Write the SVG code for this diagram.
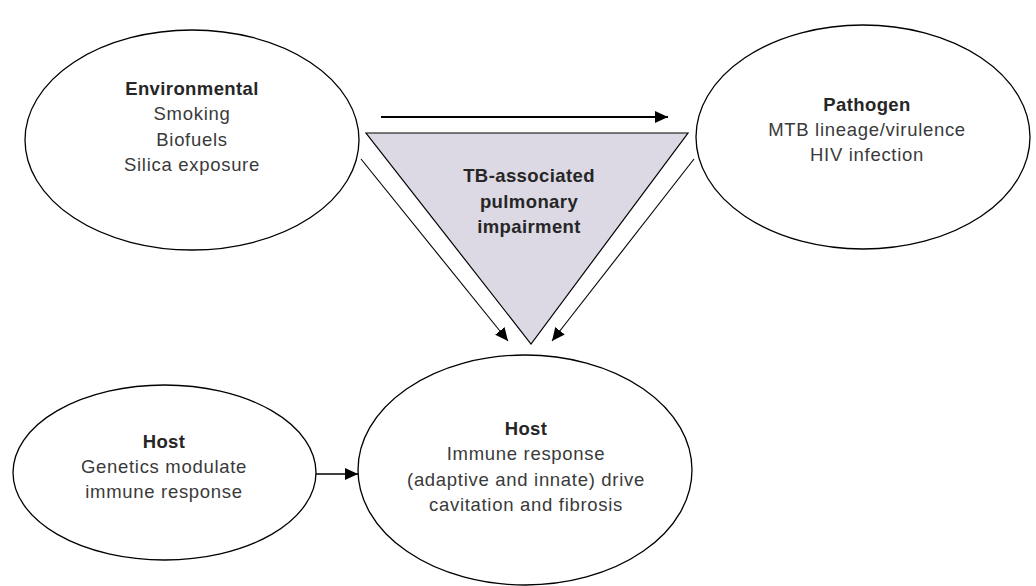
<svg xmlns="http://www.w3.org/2000/svg" width="1036" height="586" viewBox="0 0 1036 586">
<defs>
<marker id="ah" markerUnits="userSpaceOnUse" markerWidth="14" markerHeight="12" refX="13" refY="6" orient="auto">
<path d="M0,0 L13,6 L0,12 z" fill="#000"/>
</marker>
<style>
.node{fill:#fff;stroke:#000;stroke-width:1.3}
.tri{fill:#dcd8e4;stroke:#000;stroke-width:1.2}
text{font-family:"Liberation Sans",Arial,sans-serif;font-size:18.5px;text-anchor:middle;letter-spacing:0.7px;fill:#3a3a3a}
.b{font-weight:bold;fill:#262626;letter-spacing:0.4px}
.c{fill:none;stroke:#000}
</style>
</defs>
<rect width="1036" height="586" fill="#fff"/>
<g id="environmental">
<ellipse class="node" cx="192" cy="140" rx="167" ry="110"/>
<text x="192" y="95" class="b">Environmental</text>
<text x="192" y="120">Smoking</text>
<text x="192" y="146">Biofuels</text>
<text x="192" y="171">Silica exposure</text>
</g>
<g id="pathogen">
<ellipse class="node" cx="863" cy="137" rx="167" ry="112"/>
<text x="867" y="111" class="b">Pathogen</text>
<text x="867" y="136">MTB lineage/virulence</text>
<text x="867" y="161">HIV infection</text>
</g>
<g id="impairment">
<polygon class="tri" points="366,133 688,133 531,344"/>
<text x="529" y="182" class="b">TB-associated</text>
<text x="529" y="208" class="b">pulmonary</text>
<text x="529" y="233" class="b">impairment</text>
</g>
<g id="host-genetics">
<ellipse class="node" cx="164.5" cy="472.5" rx="151.5" ry="87.5"/>
<text x="164" y="448" class="b">Host</text>
<text x="164" y="473">Genetics modulate</text>
<text x="164" y="498">immune response</text>
</g>
<g id="host-immune">
<ellipse class="node" cx="525" cy="470" rx="167" ry="115"/>
<text x="526" y="435" class="b">Host</text>
<text x="526" y="460">Immune response</text>
<text x="526" y="486">(adaptive and innate) drive</text>
<text x="526" y="511">cavitation and fibrosis</text>
</g>
<g id="connectors">
<line class="c" x1="381" y1="117" x2="668" y2="117" stroke-width="2" marker-end="url(#ah)"/>
<line class="c" x1="361" y1="159" x2="508" y2="341" stroke-width="1.1" marker-end="url(#ah)"/>
<line class="c" x1="694" y1="159" x2="552" y2="341" stroke-width="1.1" marker-end="url(#ah)"/>
<line class="c" x1="316" y1="474" x2="358" y2="474" stroke-width="1.5" marker-end="url(#ah)"/>
</g>
</svg>
